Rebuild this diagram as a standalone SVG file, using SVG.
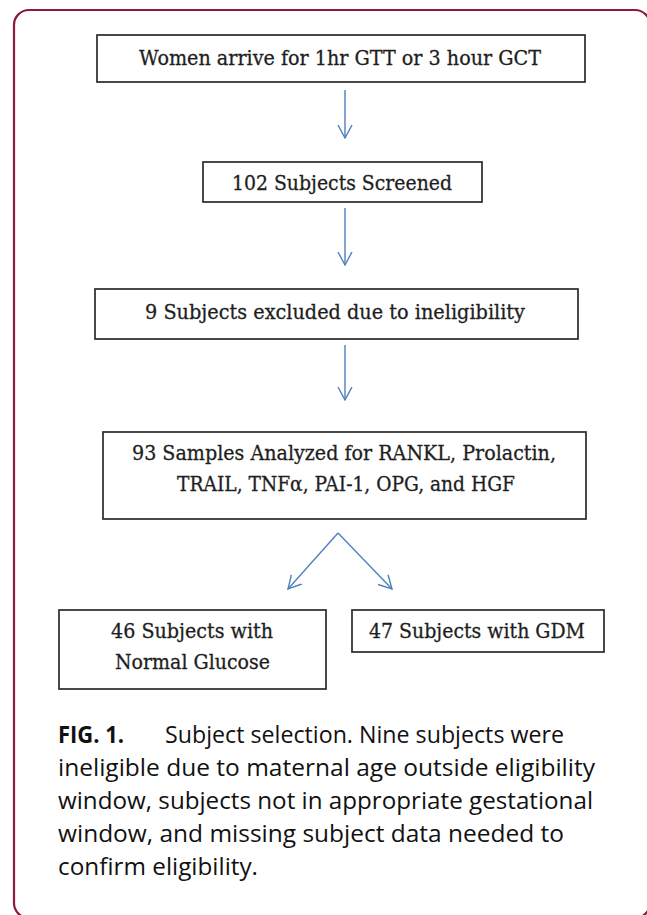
<svg xmlns="http://www.w3.org/2000/svg" width="647" height="915" viewBox="0 0 647 915">
<style>
.frame{fill:none;stroke:#8C1A3E;stroke-width:2.2}
.box{fill:#fff;stroke:#2a2a2a;stroke-width:1.7}
.t{font-family:"DejaVu Serif","Liberation Serif",serif;font-size:21px;fill:#1e1e1e;stroke:#1e1e1e;stroke-width:0.3;text-anchor:start}
.cap{font-family:"Open Sans","Noto Sans","Liberation Sans",sans-serif;font-size:23.5px;fill:#111}
.capb{font-weight:bold}
.conn{fill:none;stroke:#4F81BD;stroke-width:1.4}
</style>
<defs>
<marker id="ah" viewBox="0 0 14 16" refX="13" refY="8" markerWidth="14" markerHeight="16" markerUnits="userSpaceOnUse" orient="auto">
<path d="M0,1 L13,8 L0,15" fill="none" stroke="#4F81BD" stroke-width="1.4"/>
</marker>
</defs>
<rect width="647" height="915" fill="#fff"/>
<rect class="frame" x="14" y="10" width="636" height="908" rx="15"/>
<g id="n1">
<rect class="box" x="97" y="35" width="488" height="47"/>
<text class="t" x="139" y="65" textLength="402" lengthAdjust="spacingAndGlyphs">Women arrive for 1hr GTT or 3 hour GCT</text>
</g>
<g id="n2">
<rect class="box" x="203" y="162" width="279" height="40"/>
<text class="t" x="232" y="190" textLength="220" lengthAdjust="spacingAndGlyphs">102 Subjects Screened</text>
</g>
<g id="n3">
<rect class="box" x="95" y="289" width="483" height="50"/>
<text class="t" x="145" y="319" textLength="380" lengthAdjust="spacingAndGlyphs">9 Subjects excluded due to ineligibility</text>
</g>
<g id="n4">
<rect class="box" x="103" y="432" width="483" height="87"/>
<text class="t" x="132" y="460" textLength="424" lengthAdjust="spacingAndGlyphs">93 Samples Analyzed for RANKL, Prolactin,</text>
<text class="t" x="177" y="491" textLength="338" lengthAdjust="spacingAndGlyphs">TRAIL, TNFα, PAI-1, OPG, and HGF</text>
</g>
<g id="n5">
<rect class="box" x="59" y="610" width="267" height="79"/>
<text class="t" x="111" y="638" textLength="162" lengthAdjust="spacingAndGlyphs">46 Subjects with</text>
<text class="t" x="115" y="669" textLength="155" lengthAdjust="spacingAndGlyphs">Normal Glucose</text>
</g>
<g id="n6">
<rect class="box" x="352" y="610" width="252" height="42"/>
<text class="t" x="369" y="638" textLength="216" lengthAdjust="spacingAndGlyphs">47 Subjects with GDM</text>
</g>
<g id="connectors">
<line class="conn" x1="345" y1="90" x2="345" y2="138" marker-end="url(#ah)"/>
<line class="conn" x1="345" y1="208" x2="345" y2="265" marker-end="url(#ah)"/>
<line class="conn" x1="345" y1="345" x2="345" y2="400" marker-end="url(#ah)"/>
<line class="conn" x1="338" y1="533" x2="288" y2="589" marker-end="url(#ah)"/>
<line class="conn" x1="338" y1="533" x2="392" y2="589" marker-end="url(#ah)"/>
</g>
<g id="caption">
<text class="cap capb" x="58" y="743" textLength="66" lengthAdjust="spacingAndGlyphs">FIG. 1.</text>
<text class="cap" x="165" y="743" textLength="399" lengthAdjust="spacingAndGlyphs">Subject selection. Nine subjects were</text>
<text class="cap" x="58" y="776" textLength="537" lengthAdjust="spacingAndGlyphs">ineligible due to maternal age outside eligibility</text>
<text class="cap" x="58" y="809" textLength="535" lengthAdjust="spacingAndGlyphs">window, subjects not in appropriate gestational</text>
<text class="cap" x="58" y="842" textLength="506" lengthAdjust="spacingAndGlyphs">window, and missing subject data needed to</text>
<text class="cap" x="58" y="875" textLength="200" lengthAdjust="spacingAndGlyphs">confirm eligibility.</text>
</g>
</svg>
